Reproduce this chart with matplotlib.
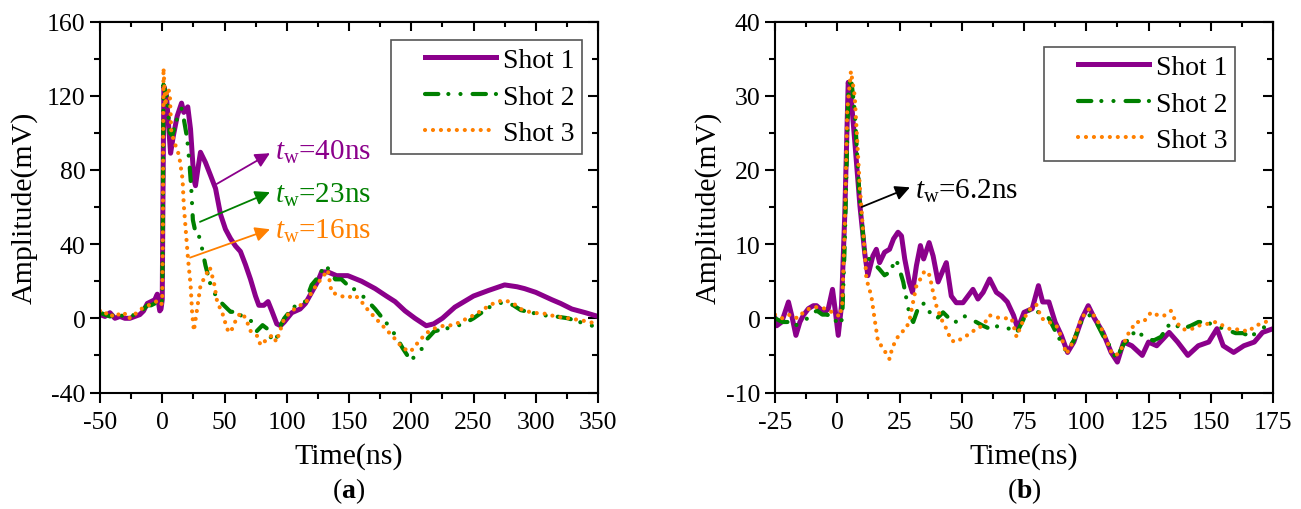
import matplotlib
matplotlib.use("Agg")
import matplotlib.pyplot as plt
from matplotlib.ticker import MultipleLocator
from matplotlib.legend_handler import HandlerLine2D

plt.rcParams['font.family'] = 'Liberation Serif'
plt.rcParams['mathtext.fontset'] = 'custom'
plt.rcParams['mathtext.rm'] = 'Liberation Serif'
plt.rcParams['mathtext.it'] = 'Liberation Serif:italic'
plt.rcParams['mathtext.bf'] = 'Liberation Serif:bold'
plt.rcParams['axes.unicode_minus'] = False

PURPLE = '#8B008B'
GREEN = '#008000'
ORANGE = '#FF8000'

# (a) long window, three shots
a_t1 = [-50, -46, -42, -38, -34, -30, -26, -22, -18, -15, -12, -9, -6, -4, -2, -1, 0, 0.5, 1.3, 3.4, 5.3, 6.7,
        8.8, 12, 15.5, 17.3, 20.5, 22.7, 25.4, 26.7, 28.5, 30.7, 34.7, 38.8, 42.8, 46.8, 50.8, 54.8, 58.8, 62.8,
        66.8, 70.9, 74.9, 77.6, 81.6, 85, 88, 92, 95, 98, 104, 110.7, 115, 120, 125, 128, 133, 140, 149, 160,
        171, 180, 187, 195, 203, 212, 218, 225, 235, 250, 262, 275, 285, 291, 300, 313, 320, 329, 340, 350]
a_v1 = [2, 1, 3, 0, 1, 0, 0, 1, 2, 4, 8, 9, 10, 13, 4, 5, 10, 60, 125, 120, 102, 89,
        98, 109, 116, 111, 114, 102, 75, 71.5, 80, 89.5, 84, 77, 70, 56, 48, 43, 39, 36,
        29, 21, 12, 7, 7, 9, 4, -3, -4, -2, 3, 5, 8, 14, 20, 25, 25, 23, 23, 20,
        16, 12, 9, 4, 0, -4, -3, 0, 6, 12, 15, 18, 17, 16, 14, 10, 8, 5, 3, 1]

a_t2 = [-50, -46, -42, -38, -34, -30, -26, -22, -18, -15, -12, -9, -6, -3, -1, 0, 0.5, 1, 4, 6, 8, 10.5,
        13.2, 15.5, 17.3, 20, 22, 23.3, 24.6, 26.7, 29.4, 32, 34.7, 38.8, 44.2, 49.5, 54.8, 60.2, 65.5, 70.9,
        75.8, 80.6, 85, 88.5, 91.7, 95, 98, 104, 110.7, 115, 120, 125, 131, 135, 139, 144, 148.7, 158, 164,
        171, 177, 183.6, 188, 193, 199.4, 204, 209, 213, 218.5, 225, 234, 242, 250, 262.8, 270, 275.5, 282,
        288, 297, 307, 316, 326, 335, 342, 350]
a_v2 = [3, 2, 1, 2, 1, 2, 1, 2, 3, 5, 7, 7, 8, 9, 8, 10, 55, 126, 118, 100, 98.5, 104,
        111, 113, 107.5, 97, 82, 70, 53, 46.4, 44.6, 37.5, 28.5, 18, 10.6, 7, 3.5, 3.5, 0, -1,
        -7, -3.7, -6, -12.7, -11, -4, 0, 5, 8.8, 9, 18, 22, 29, 25, 21, 21, 18, 14, 10,
        5, 0, -5.5, -10, -16, -22.6, -20, -16, -11, -7, -6, -4.6, -3, 0, 6, 8, 8.8, 7,
        4.4, 3, 1.6, 1, 0, -2, -3, -5.5]

a_t3 = [-50, -47, -44, -41, -38, -35, -32, -29, -26, -23, -20, -17, -14, -11, -8, -5, -2, -1, 0, 0.5, 1, 2.5,
        4, 6, 7.3, 9, 11.7, 13.5, 16.3, 17.3, 19, 20.7, 22.8, 24, 25.4, 28, 30.7, 34.7, 38.2, 41.5, 44.2,
        48.2, 52.2, 54.8, 58.8, 62.8, 66.8, 70.9, 76.2, 79, 83, 88.5, 91.7, 95, 98, 104, 110.7, 115, 120,
        125, 129.7, 133, 136, 142.4, 148, 155, 160, 164.6, 170, 177, 186.8, 193, 199.4, 205.8, 212, 218.5,
        226, 234, 242, 250, 256, 263, 269, 275.5, 282, 288, 297, 307, 316, 326, 336, 343, 350]
a_v3 = [4, 2, 3, 1, 3, 2, 1, 3, 0, 2, 3, 5, 6, 7, 8, 9, 8, 7, 9, 50, 135, 114.6,
        124, 122, 100, 96.7, 91, 88, 75, 61, 46.4, 32, 17.6, 3, -6.8, 5, 17.6, 23, 27.5, 19.4, 8.6,
        3, -5.9, -7.7, -1.5, 3, 0.4, -6.8, -9.5, -14.5, -12, -9, -12.7, -6, 0, 4, 7, 8, 14,
        19, 23, 26, 14, 12.4, 11, 12.4, 9, 5, 1, -4, -11, -16, -18, -12.7, -8, -5.5,
        -4, -3.7, -1, 1.6, 4, 7, 9, 9.7, 8, 5, 3, 2.5, 1, 0, -1, -2, -3]

# (b) short window, three shots
b_t1 = [-25, -24.3, -22.3, -21, -19.6, -18.3, -16.6, -15, -13.6, -11.6, -9.6, -8.3, -7, -5, -3.6, -1.9, -0.9,
        0.4, 1.7, 3, 4.4, 5.5, 7, 9.1, 11.1, 12.3, 14.3, 15.7, 17, 19, 21, 22.6, 24.4, 25.8, 27.1, 28.9,
        30.2, 31.8, 33.4, 34.7, 36.9, 38.5, 40.5, 42.5, 43.8, 45.8, 47.8, 50.5, 52.5, 54.5, 56.5, 58.6, 61.2,
        63.9, 66, 68.3, 70.8, 72.5, 75, 78.3, 80.8, 82.5, 85, 87.5, 90, 92.5, 95, 98.3, 100.8, 103.3, 106.7,
        110, 112.5, 115, 118.3, 122.5, 125, 128.3, 133.3, 136.7, 140.8, 145, 149.2, 152.5, 155, 159.2, 163.3,
        167.5, 170.8, 175]
b_v1 = [0, -1, -0.5, 0.8, 2.2, 0.4, -2.3, -0.5, 0.4, 1.3, 1.7, 1.7, 1.3, 0.8, 1.3, 3.9, 1.3,
        -2.3, 1.7, 13.8, 31.8, 30, 24, 15.2, 8.6, 5.75, 8.4, 9.3, 7.5, 8.9, 9.3, 10.7, 11.6, 11.1, 8, 4.9,
        3.5, 7.1, 9.8, 8, 10.2, 8.4, 4.9, 6.5, 7.5, 3.0, 2.1, 2.1, 3.0, 3.9, 2.6, 3.5, 5.3,
        3.5, 3, 2.2, 0.4, -1.4, 0.8, 1.3, 4.4, 2.2, 2.2, -0.5, -2.3, -4.6, -3.2, 0, 1.7, 0, -1.9,
        -4.6, -5.9, -3.2, -3.7, -5, -3.2, -3.7, -1.9, -3.2, -5, -3.7, -3.2, -1.4, -3.7, -4.6, -3.7,
        -3.2, -1.9, -1.4]

b_t2 = [-25, -22, -20, -17, -14, -12, -10, -8, -6, -4, -2, 0, 1, 2, 3, 4.5, 5.5, 7, 9, 11, 12, 13, 15, 17,
        19, 21, 23.6, 25, 26.5, 27.8, 29.1, 30.5, 32.4, 35.1, 37.8, 39.8, 42.5, 45.2, 47.9, 50.5, 53.2,
        55.8, 58.5, 61.2, 65, 70, 72, 75, 78, 82, 85, 88, 92, 95, 98, 101, 104, 107, 110, 112, 115, 118,
        120, 123, 127, 130, 133, 135, 138, 142, 145, 148, 152, 156, 160, 163, 166, 170, 175]
b_v2 = [0, -0.5, -0.5, -1, -0.5, 0, 0.8, 1, 0.5, 0.5, 0, -0.5, -1, 0, 10, 31, 32.5, 28, 16, 9, 8, 8, 7.3, 6.6,
        5.8, 6.2, 8, 6.6, 4.9, 2.6, 0.4, -0.5, 1.3, 2.1, 0.4, -0.1, 0.8, -0.1, -0.5, 0.4, -0.1,
        -0.5, -1, -1.4, -1, -1.5, -2, 0, 1.5, 0.5, 0, -2, -4.5, -3, -0.5, 0.5, -0.5, -2.5, -4, -5.5, -3.5, -2.5,
        -1.5, -2.5, -3, -2.5, -1, -0.5, -1.5, -1, -0.5, -0.5, -1, -1.5, -2, -2, -2.5, -1.5, -0.5]

b_t3 = [-25, -22, -19, -16, -13, -10, -7, -4, -2, 0, 1, 2, 3, 4, 5.5, 7, 9, 11, 11.7, 13.7, 15, 16.4, 17.7,
        19.4, 21, 22, 23.7, 25.7, 27.7, 29.1, 30.4, 31.8, 33.4, 35.1, 37.1, 38.5, 39.8, 41.8, 43.8, 45.8,
        47.8, 50.5, 53.2, 55.8, 58.5, 61.2, 64.5, 67, 70, 72, 75, 78, 80, 82, 85, 88, 90, 92, 95, 98, 101,
        104, 107, 110, 112, 114, 117, 120, 123, 126, 128, 131, 134, 136, 139, 142, 145, 148, 152, 155, 158,
        162, 165, 168, 172, 175]
b_v3 = [0.5, 0, 0.5, 0, 1, 1.5, 1.5, 1.2, 0.8, 0.5, 0.2, 2, 12, 28, 33.3, 30, 18, 9, 5.3, 3, -0.1, -3.2, -3.7,
        -4.6, -5.5, -4.1, -2.8, -1.9, -1.4, -0.1, 2.1, 4.4, 5.3, 6.4, 5.8, 3.5, 1.7, -0.1, -1.4, -3,
        -3.2, -2.6, -2.1, -1.4, -1, 0.4, 0.1, 0, 0, -2.5, 0, 1.5, 1.8, 0, -0.5, -1, -2.5, -4.8, -3, 0, 1.2,
        0, -2, -4.5, -5, -4.2, -2, -0.5, -0.5, 0.8, 0.5, 0.3, 1, -0.5, -1.5, -1.5, -1, -0.8, -0.5, -1, -1.5,
        -1.5, -1.8, -1, -0.5, 0]

labels = ['Shot 1', 'Shot 2', 'Shot 3']

dashdotdot = (0, (3.2, 2.4, 0.01, 2.9, 0.01, 2.9))
dotted = (0, (0.01, 1.9))


def style_axes(ax, xlim, ylim, xmaj, ymaj):
    ax.set_xlim(*xlim)
    ax.set_ylim(*ylim)
    ax.xaxis.set_major_locator(MultipleLocator(xmaj))
    ax.xaxis.set_minor_locator(MultipleLocator(xmaj / 2))
    ax.yaxis.set_major_locator(MultipleLocator(ymaj))
    ax.yaxis.set_minor_locator(MultipleLocator(ymaj / 2))
    ax.tick_params(which='major', direction='out', length=7.5, width=1.5, labelsize=18.5)
    ax.tick_params(axis='x', which='major', pad=6)
    ax.tick_params(axis='y', which='major', pad=3)
    ax.tick_params(which='minor', direction='out', length=4, width=1.5)
    for s in ax.spines.values():
        s.set_linewidth(1.5)
    # mirrored ticks pointing into the frame
    top = ax.secondary_xaxis('top')
    top.xaxis.set_major_locator(MultipleLocator(xmaj))
    top.xaxis.set_minor_locator(MultipleLocator(xmaj / 2))
    top.tick_params(which='major', direction='in', length=7.5, width=1.5, labeltop=False)
    top.tick_params(which='minor', direction='in', length=4, width=1.5)
    right = ax.secondary_yaxis('right')
    right.yaxis.set_major_locator(MultipleLocator(ymaj))
    right.yaxis.set_minor_locator(MultipleLocator(ymaj / 2))
    right.tick_params(which='major', direction='in', length=7.5, width=1.5, labelright=False)
    right.tick_params(which='minor', direction='in', length=4, width=1.5)
    ax.set_xlabel('Time(ns)', fontsize=21.5, labelpad=6)
    ax.set_ylabel('Amplitude(mV)', fontsize=21.5)


def draw_shots(ax, t1, v1, t2, v2, t3, v3):
    ax.plot(t1, v1, color=PURPLE, lw=3.6, label=labels[0], solid_joinstyle='round')
    ax.plot(t2, v2, color=GREEN, lw=3, ls=dashdotdot, dash_capstyle='round', label=labels[1])
    ax.plot(t3, v3, color=ORANGE, lw=3, ls=dotted, dash_capstyle='round', label=labels[2])


fig = plt.figure(figsize=(13.01, 5.10), dpi=100)
ax1 = fig.add_axes([100 / 1301, 116.5 / 510, 498 / 1301, 371 / 510])
ax2 = fig.add_axes([775 / 1301, 116.5 / 510, 498 / 1301, 371 / 510])

draw_shots(ax1, a_t1, a_v1, a_t2, a_v2, a_t3, a_v3)
style_axes(ax1, (-50, 350), (-40, 160), 50, 40)
ax1.yaxis.set_label_coords(-0.125, 0.5)

draw_shots(ax2, b_t1, b_v1, b_t2, b_v2, b_t3, b_v3)
style_axes(ax2, (-25, 175), (-10, 40), 25, 10)
ax2.yaxis.set_label_coords(-0.108, 0.5)

# pulse-width callouts
callouts_a = [((43.7, 72.4), (86.5, 89), 90.5, 86, '40ns', PURPLE),
              ((30.3, 52), (86.5, 68), 90.5, 63, '23ns', GREEN),
              ((22.3, 32.7), (86.5, 48), 90.5, 43.5, '16ns', ORANGE)]
for start, tip, tx, ty, txt, c in callouts_a:
    ax1.annotate('', xy=tip, xytext=start,
                 arrowprops=dict(arrowstyle='-|>', color=c, lw=1.3, mutation_scale=22, shrinkA=0, shrinkB=0))
    ax1.text(tx, ty, r'$t_{\rm w}$=' + txt, color=c, fontsize=21, va='baseline')

ax2.annotate('', xy=(29.2, 17.65), xytext=(9.8, 15),
             arrowprops=dict(arrowstyle='-|>', color='black', lw=1.3, mutation_scale=22, shrinkA=0, shrinkB=0))
ax2.text(31.2, 16.2, r'$t_{\rm w}$=6.2ns', color='black', fontsize=21, va='baseline')

for ax, anchor in ((ax1, (0.968, 0.950)), (ax2, (0.924, 0.931))):
    leg = ax.legend(loc='upper right', bbox_to_anchor=anchor, borderaxespad=0, fontsize=20,
                    handlelength=3.5, handletextpad=0.25, labelspacing=0.4, borderpad=0.27,
                    fancybox=False, framealpha=1,
                    handler_map={matplotlib.lines.Line2D: HandlerLine2D(xpad=0.93)})
    leg.get_frame().set_edgecolor('#555555')
    leg.get_frame().set_linewidth(1.2)

fig.text(349 / 1301, 1 - 491 / 510, r'($\mathbf{a}$)', ha='center', va='center', fontsize=20)
fig.text(1024 / 1301, 1 - 491 / 510, r'($\mathbf{b}$)', ha='center', va='center', fontsize=20)

fig.savefig('out.png', dpi=100)
